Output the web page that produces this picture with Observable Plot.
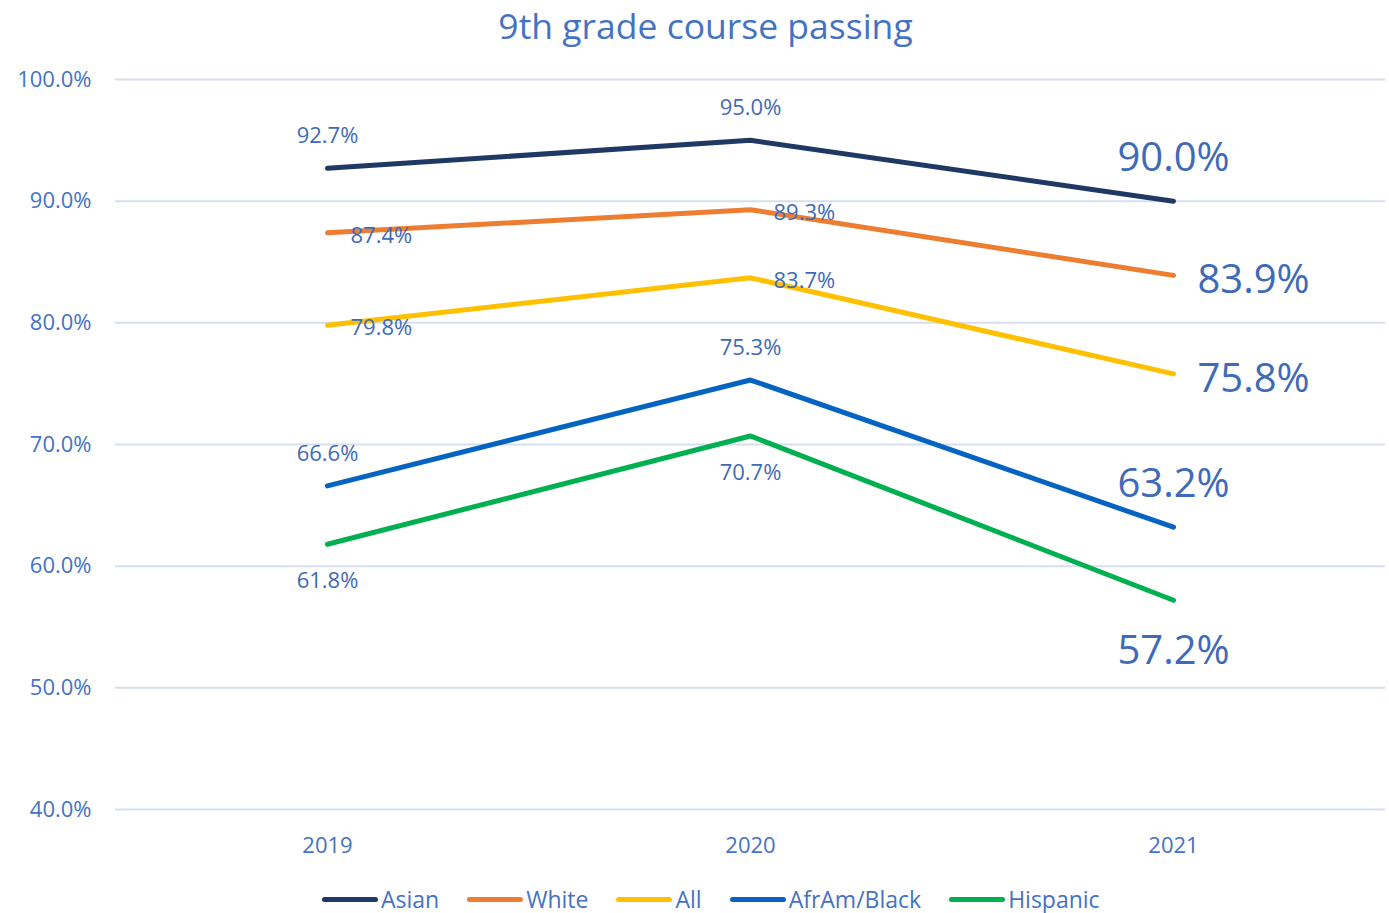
<!DOCTYPE html>
<html>
<head>
<meta charset="utf-8">
<script src="https://cdn.jsdelivr.net/npm/d3@7"></script>
<script src="https://cdn.jsdelivr.net/npm/@observablehq/plot@0.6"></script>
<style>
  html, body { margin: 0; padding: 0; background: #fff; }
  body { width: 1389px; height: 913px; position: relative; overflow: hidden; font-family: "Open Sans", "Noto Sans", sans-serif; }
  #title { position: absolute; left: 0; top: 0; width: 1389px; height: 50px; line-height: 50px; text-align: center; font-size: 35.5px; color: #4472C4; padding-left: 22px; box-sizing: border-box; }
  #chart { position: absolute; left: 0; top: 50px; }
  #legend { position: absolute; left: 322px; top: 887px; display: flex; align-items: center; font-size: 23px; line-height: 24px; color: #4472C4; height: 24px; }
  .item { display: flex; align-items: center; margin-right: 28px; }
  .sw { width: 56px; height: 5px; border-radius: 3px; margin-right: 3px; }
</style>
</head>
<body>
<div id="title">9th grade course passing</div>
<div id="chart"></div>
<div id="legend"></div>
<script>
const years = ["2019", "2020", "2021"];
const seriesNames = ["Asian", "White", "All", "AfrAm/Black", "Hispanic"];
const seriesColors = ["#203864", "#ED7D31", "#FFC000", "#0563C1", "#00B050"];
const asian = [92.7, 95.0, 90.0];
const white = [87.4, 89.3, 83.9];
const all = [79.8, 83.7, 75.8];
const afram = [66.6, 75.3, 63.2];
const hispanic = [61.8, 70.7, 57.2];
const yTicks = [40, 50, 60, 70, 80, 90, 100];

const valuesBySeries = [asian, white, all, afram, hispanic];
const placement = { "Asian": "above", "White": "right", "All": "right", "AfrAm/Black": "above", "Hispanic": "below" };

const rows = [];
seriesNames.forEach((s, i) => {
  years.forEach((y, j) => {
    rows.push({ year: y, series: s, value: valuesBySeries[i][j], place: placement[s], big: j === years.length - 1 });
  });
});

const labelColor = "#3F6AB8";
const fmt = d => d.toFixed(1) + "%";

const sel = (place, big) => rows.filter(r => r.place === place && r.big === big);

const chart = Plot.plot({
  width: 1389,
  height: 820,
  marginLeft: 115,
  marginRight: 4,
  marginTop: 29,
  marginBottom: 61,
  style: { fontFamily: "'Open Sans', 'Noto Sans', sans-serif", fontSize: "22px", color: "#4472C4", background: "transparent" },
  x: { type: "point", domain: years, padding: 0.5 },
  y: { domain: [40, 100] },
  color: { domain: seriesNames, range: seriesColors },
  marks: [
    Plot.ruleY(yTicks, { stroke: "#D6DFF0", strokeWidth: 2 }),
    Plot.axisY({ ticks: yTicks, tickSize: 0, tickPadding: 24, tickFormat: fmt, label: null, fontSize: 22 }),
    Plot.axisX({ tickSize: 0, tickPadding: 28, label: null, fontSize: 22 }),
    Plot.lineY(rows, { x: "year", y: "value", z: "series", stroke: "series", strokeWidth: 5, strokeLinecap: "round", strokeLinejoin: "round" }),
    Plot.text(sel("above", false), { x: "year", y: "value", text: d => fmt(d.value), dy: -32, fill: labelColor, fontSize: 22 }),
    Plot.text(sel("below", false), { x: "year", y: "value", text: d => fmt(d.value), dy: 37, fill: labelColor, fontSize: 22 }),
    Plot.text(sel("right", false), { x: "year", y: "value", text: d => fmt(d.value), dx: 23, dy: 3, textAnchor: "start", fill: labelColor, fontSize: 22 }),
    Plot.text(sel("above", true), { x: "year", y: "value", text: d => fmt(d.value), dy: -43, fill: labelColor, fontSize: 40 }),
    Plot.text(sel("below", true), { x: "year", y: "value", text: d => fmt(d.value), dy: 51, fill: labelColor, fontSize: 40 }),
    Plot.text(sel("right", true), { x: "year", y: "value", text: d => fmt(d.value), dx: 24, dy: 5, textAnchor: "start", fill: labelColor, fontSize: 40 })
  ]
});
document.getElementById("chart").appendChild(chart);

const legend = document.getElementById("legend");
seriesNames.forEach((s, i) => {
  const item = document.createElement("div");
  item.className = "item";
  const sw = document.createElement("div");
  sw.className = "sw";
  sw.style.background = seriesColors[i];
  const t = document.createElement("span");
  t.textContent = s;
  item.appendChild(sw);
  item.appendChild(t);
  legend.appendChild(item);
});
</script>
</body>
</html>
